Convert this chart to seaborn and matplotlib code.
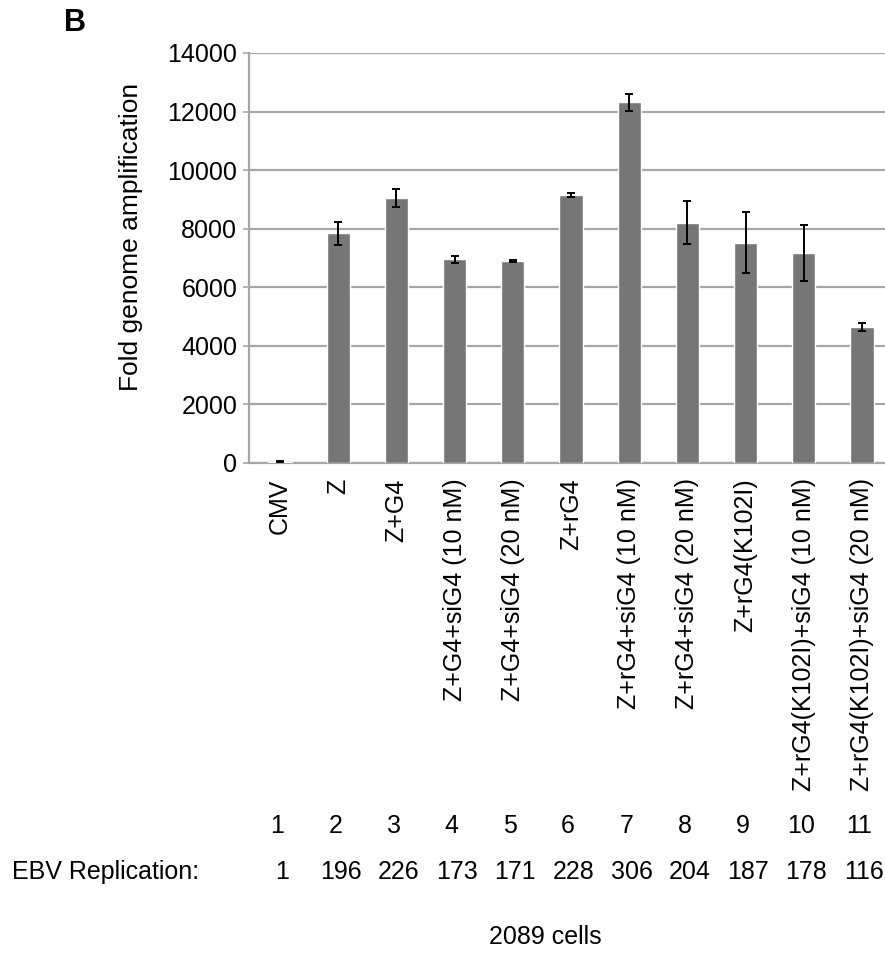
import matplotlib
matplotlib.use("Agg")
import matplotlib.pyplot as plt
import matplotlib.transforms as mtransforms
import numpy as np
import pandas as pd
import seaborn as sns

# Conditions transfected into 2089 cells
conditions = [
    "CMV", "Z", "Z+G4", "Z+G4+siG4 (10 nM)", "Z+G4+siG4 (20 nM)", "Z+rG4",
    "Z+rG4+siG4 (10 nM)", "Z+rG4+siG4 (20 nM)", "Z+rG4(K102I)",
    "Z+rG4(K102I)+siG4 (10 nM)", "Z+rG4(K102I)+siG4 (20 nM)",
]
lane_numbers = ["1", "2", "3", "4", "5", "6", "7", "8", "9", "10", "11"]
fold_amplification = [40, 7840, 9045, 6955, 6900, 9160, 12310, 8205, 7525, 7160, 4635]
fold_sd = [20, 400, 320, 130, 35, 75, 275, 740, 1050, 950, 135]
ebv_replication = ["1", "196", "226", "173", "171", "228", "306", "204", "187", "178", "116"]

W, H = 885, 958
DPI = 100
sns.set_theme(style="white")
plt.rcParams["font.family"] = ["Liberation Sans", "DejaVu Sans"]
plt.rcParams["text.color"] = "black"
plt.rcParams["xtick.color"] = "black"
plt.rcParams["ytick.color"] = "black"

fig = plt.figure(figsize=(W / DPI, H / DPI), dpi=DPI)
ax_left, ax_right, ax_top, ax_bottom = 249, 885, 53, 463
ax = fig.add_axes([ax_left / W, 1 - ax_bottom / H,
                   (ax_right - ax_left) / W, (ax_bottom - ax_top) / H])

df = pd.DataFrame({"condition": conditions, "fold": fold_amplification})
sns.barplot(data=df, x="condition", y="fold", color="#767676", saturation=1,
            width=0.4, errorbar=None, ax=ax, zorder=3)
ax.errorbar(np.arange(len(conditions)), fold_amplification, yerr=fold_sd,
            fmt="none", ecolor="black", elinewidth=1.4, capsize=3,
            capthick=1.4, zorder=4)

grid_color = "#a6a6a6"
ax.set_ylim(0, 14000)
ax.set_yticks(np.arange(0, 14001, 2000))
ax.set_xlim(-0.533, 10.395)
ax.yaxis.grid(True, color=grid_color, linewidth=1.6, zorder=0)
ax.set_axisbelow(True)
for side in ("top", "right"):
    ax.spines[side].set_visible(False)
for side in ("left", "bottom"):
    ax.spines[side].set_color(grid_color)
    ax.spines[side].set_linewidth(1.6)

fs = 18
ax.tick_params(axis="y", which="major", left=True, length=4.5, width=1.2,
               color=grid_color, labelcolor="black", labelsize=fs, pad=4)
ax.tick_params(axis="x", length=0, labelsize=fs, labelcolor="black", pad=11)
ax.set_xticks(range(len(conditions)))
ax.set_xticklabels(conditions, rotation=90, ha="center", va="top")
ax.set_xlabel("")
ax.set_ylabel("")

# Axis title, panel letter and the table beneath the chart
fig.text(131 / W, 1 - 237 / H, "Fold genome amplification", rotation=90,
         ha="center", va="center", fontsize=19)
fig.text(64 / W, 1 - 23 / H, "B", ha="left", va="center", fontsize=22,
         fontweight="bold")

trans = mtransforms.blended_transform_factory(ax.transData, fig.transFigure)
for i, (lane, rep) in enumerate(zip(lane_numbers, ebv_replication)):
    ax.text(i - 0.05, 1 - 826 / H, lane, transform=trans, ha="center",
            va="center", fontsize=fs)
    ax.text(i + 0.04, 1 - 872 / H, rep, transform=trans, ha="center",
            va="center", fontsize=fs)
fig.text(12 / W, 1 - 872 / H, "EBV Replication:", ha="left", va="center",
         fontsize=fs)
fig.text(545 / W, 1 - 937 / H, "2089 cells", ha="center", va="center",
         fontsize=fs)

fig.savefig("out.png", dpi=DPI)
